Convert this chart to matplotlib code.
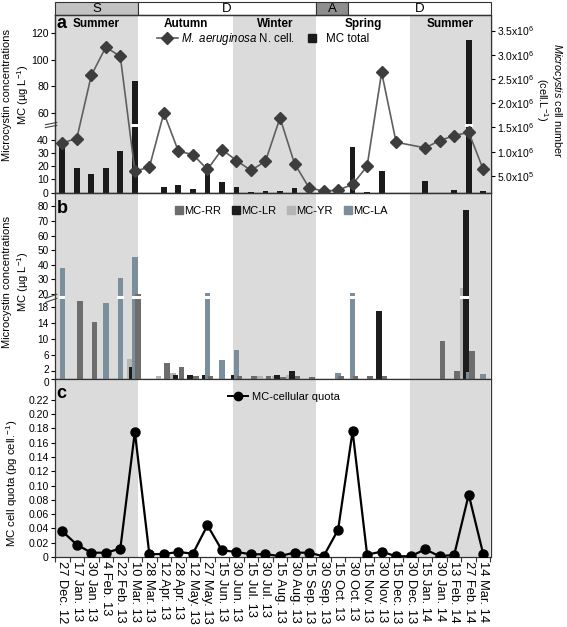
import numpy as np
import matplotlib
matplotlib.use('Agg')
import matplotlib.pyplot as plt
from matplotlib.lines import Line2D
from matplotlib.patches import Rectangle
from matplotlib.transforms import blended_transform_factory, ScaledTranslation

plt.rcParams['font.family'] = ['Liberation Sans', 'DejaVu Sans']
plt.rcParams['mathtext.fontset'] = 'custom'
plt.rcParams['mathtext.rm'] = 'Liberation Sans'
plt.rcParams['mathtext.it'] = 'Liberation Sans:italic'
plt.rcParams['mathtext.bf'] = 'Liberation Sans:bold'

# ---------------- data ----------------
dates = ['27 Dec. 12', '17 Jan. 13', '30 Jan. 13', '4 Feb. 13', '22 Feb. 13', '10 Mar. 13',
         '28 Mar. 13', '12 Apr. 13', '28 Apr. 13', '12 May. 13', '27 May. 13', '15 Jun. 13',
         '30 Jun. 13', '15 Jul. 13', '30 Jul. 13', '15 Aug. 13', '30 Aug. 13', '15 Sep. 13',
         '30 Sep. 13', '15 Oct. 13', '30 Oct. 13', '15 Nov. 13', '30 Nov. 13', '15 Dec. 13',
         '30 Dec. 13', '15 Jan. 14', '30 Jan. 14', '13 Feb. 14', '27 Feb. 14', '14 Mar. 14']

mc_total = [37.6, 18.8, 13.8, 18.3, 31.2, 84.0, 0.0, 4.5, 5.5, 2.8, 21.6, 7.8, 4.3, 0.8, 1.5,
            1.5, 3.3, 0.0, 0.0, 0.0, 34.6, 0.5, 16.6, 0.0, 0.0, 8.8, 0.0, 1.8, 115.0, 1.0]

cell_number = [1.183e6, 1.272e6, 2.574e6, 3.158e6, 2.965e6, 0.599e6, 0.681e6, 1.80e6, 1.01e6,
               0.942e6, 0.634e6, 1.045e6, 0.819e6, 0.613e6, 0.805e6, 1.698e6, 0.757e6, 0.257e6,
               0.187e6, 0.208e6, 0.325e6, 0.702e6, 2.636e6, 1.196e6, np.nan, 1.08e6, 1.23e6,
               1.333e6, 1.40e6, 0.634e6]

mc_rr = [0, 19.2, 14.2, 0, 0, 20.2, 0, 4.1, 2.9, 0.8, 0.8, 0, 0.8, 0.8, 0.8, 0.6, 0.75, 0.5,
         0, 0.8, 0.8, 0.8, 0.8, 0, 0, 0, 9.6, 2.1, 7.0, 0]
mc_lr = [0, 0, 0, 0, 0, 3.1, 0, 0, 1.0, 1.0, 1.0, 0, 1.0, 0, 0, 1.0, 2.1, 0,
         0, 0, 0, 0, 17.0, 0, 0, 0, 0, 0, 77.7, 0]
mc_yr = [0, 0, 0, 0, 0, 4.9, 0, 0.75, 1.6, 0, 0, 0, 0, 0, 0.8, 0.8, 1.0, 0,
         0, 0, 0, 0, 0, 0, 0, 0, 0, 0, 24.3, 0]
mc_la = [38.0, 0, 0, 19.0, 30.8, 45.0, 0, 0, 0, 0, 20.5, 4.75, 7.25, 0, 0, 0, 0, 0,
         0, 1.6, 20.5, 0, 0, 0, 0, 0, 0, 0, 1.7, 1.2]

mc_quota = [0.036, 0.0173, 0.006, 0.006, 0.0117, 0.175, 0.0038, 0.0042, 0.007, 0.0047,
            0.0443, 0.0094, 0.007, 0.0038, 0.0038, 0.0014, 0.0061, 0.006, 0.001, 0.038,
            0.176, 0.0033, 0.0075, 0.001, 0.001, 0.0107, 0.001, 0.003, 0.0873, 0.004]

seasons = ['Summer', 'Autumn', 'Winter', 'Spring', 'Summer']
season_bounds = [-0.5, 5.20, 11.78, 17.51, 23.95, 29.5]
season_gray = [True, False, True, False, True]
phases = ['S', 'D', 'A', 'D']
phase_bounds = [-0.5, 5.20, 17.51, 19.68, 29.5]
phase_colors = ['#c2c2c2', 'white', '#8e8e8e', 'white']

x = np.arange(len(dates))
SHADE = '#dbdbdb'
NARROW = ['Liberation Sans Narrow', 'Liberation Sans', 'DejaVu Sans']

fig = plt.figure(figsize=(5.67, 6.27), dpi=100)
L, W = 55 / 567, 435.5 / 567

def fy(top_px, bot_px):
    return [L, 1 - bot_px / 627, W, (bot_px - top_px) / 627]

ax_h = fig.add_axes(fy(2, 15))
ax_a = fig.add_axes(fy(15, 192.7))
ax_b = fig.add_axes(fy(192.7, 379))
ax_c = fig.add_axes(fy(379, 557))

# header
ax_h.set_xlim(-0.5, 29.5)
ax_h.set_ylim(0, 1)
ax_h.axis('off')
for i, p in enumerate(phases):
    a0, a1 = phase_bounds[i], phase_bounds[i + 1]
    ax_h.add_patch(Rectangle((a0, 0), a1 - a0, 1, facecolor=phase_colors[i], edgecolor='#333333',
                             lw=0.8, clip_on=False))
    ax_h.text((a0 + a1) / 2, 0.45, p, ha='center', va='center', fontsize=9.5)

def shade(ax):
    for i in range(len(seasons)):
        if season_gray[i]:
            ax.axvspan(season_bounds[i], season_bounds[i + 1], color=SHADE, lw=0, zorder=0)
    ax.set_xlim(-0.5, 29.5)
    ax.set_xticks(x)
    ax.set_xticks(np.arange(-0.5, 30, 1), minor=True)
    ax.tick_params(axis='x', which='major', length=0)
    ax.tick_params(axis='x', which='minor', length=3.5, direction='out', width=0.8, color='#333333')
    ax.tick_params(axis='y', length=3, direction='out', width=0.8, labelsize=7.6, pad=1.5)
    for s in ax.spines.values():
        s.set_color('#333333')
        s.set_linewidth(0.9)

def break_mark(ax, yval):
    tr = blended_transform_factory(ax.transAxes, ax.transData)
    for dy in (0, 1):
        ax.plot([-0.022, 0.004], [yval - 1.5 + dy * 2.2, yval + 0.2 + dy * 2.2], color='#444444',
                lw=0.8, transform=tr, clip_on=False, zorder=6)

# ---------------- panel a ----------------
shade(ax_a)
ax_a.set_xticklabels([])
ax_a.bar(x, mc_total, width=0.4, color='#1a1a1a', zorder=3)
tall = [i for i in x if mc_total[i] > 52]
ax_a.bar(tall, [2.2] * len(tall), bottom=49.8, width=0.55, color='white', zorder=4)
ax_a.set_ylim(0, 133.8)
ax_a.set_yticks([0, 10, 20, 30, 40, 60, 80, 100, 120])
break_mark(ax_a, 50.5)

ax_r = ax_a.twinx()
cn = np.array(cell_number)
ok = ~np.isnan(cn)
ax_r.plot(x[ok], cn[ok], color='#5f5f5f', lw=1.2, marker='D', ms=6.5, mfc='#3d3d3d',
          mec='#3d3d3d', zorder=5)
ax_r.set_ylim(0.155e6, 3.82e6)
rt = [0.5e6, 1.0e6, 1.5e6, 2.0e6, 2.5e6, 3.0e6, 3.5e6]
ax_r.set_yticks(rt)
ax_r.set_yticklabels([r'5.0x10$^5$'] + [r'%.1fx10$^6$' % (v / 1e6) for v in rt[1:]],
                     fontfamily=NARROW)
ax_r.tick_params(axis='y', length=3, direction='out', width=0.8, labelsize=7.5, pad=2)
for s in ax_r.spines.values():
    s.set_color('#333333')
    s.set_linewidth(0.9)

trR = blended_transform_factory(ax_r.transData, ax_r.transAxes)
for i, sname in enumerate(seasons):
    ax_r.text((season_bounds[i] + season_bounds[i + 1]) / 2, 0.95, sname, transform=trR,
              ha='center', va='center', fontsize=8.5, fontweight='bold')
ax_r.text(0.004, 0.95, 'a', transform=ax_r.transAxes, ha='left', va='center',
          fontsize=13, fontweight='bold')

hA = [Line2D([], [], color='#5f5f5f', lw=1.2, marker='D', ms=6, mfc='#3d3d3d', mec='#3d3d3d'),
      Line2D([], [], ls='none', marker='s', ms=6, mfc='#1a1a1a', mec='#1a1a1a')]
ax_r.legend(hA, [r'$\it{M.\ aeruginosa}$ N. cell.', 'MC total'], loc='center',
            bbox_to_anchor=(0.478, 0.865), ncol=2, frameon=False, fontsize=8.3,
            handlelength=1.8, columnspacing=0.6, handletextpad=0.3, borderpad=0)

# ---------------- panel b ----------------
xp = [-100.0, 0.0, 19.0, 20.0, 300.0]
fp = [-400.0, 0.0, 76.0, 85.0, 85.0 + 280 * 1.455]
fwd = lambda v: np.interp(v, xp, fp)
inv = lambda p: np.interp(p, fp, xp)
ax_b.set_yscale('function', functions=(fwd, inv))
shade(ax_b)
ax_b.set_xticklabels([])
bw = 0.38
series_b = [('MC-YR', mc_yr, -0.38, '#b5b5b5', 3),
            ('MC-LR', mc_lr, -0.19, '#1c1c1c', 4),
            ('MC-LA', mc_la, 0.0, '#7b8e9b', 5),
            ('MC-RR', mc_rr, 0.21, '#6d6d6d', 6)]
for name, vals, off, col, z in series_b:
    ax_b.bar(x + off, vals, width=bw, color=col, zorder=z)
    big = [i for i in x if vals[i] > 19.9]
    ax_b.bar(np.array(big) + off, [0.38] * len(big), bottom=19.4, width=bw + 0.06,
             color='white', zorder=z + 0.5)
ax_b.set_ylim(0, 89.4)
ax_b.set_yticks([0, 2, 6, 10, 14, 18, 20, 30, 40, 50, 60, 70, 80])
ax_b.set_yticklabels(['0', '2', '6', '10', '14', '18', '20', '30', '40', '50', '60', '70', '80'])
ax_b.minorticks_off()
ax_b.set_xticks(np.arange(-0.5, 30, 1), minor=True)
ax_b.tick_params(axis='x', which='minor', length=3.5, direction='out', width=0.8, color='#333333')
ax_b.tick_params(axis='y', labelsize=7.2)
fig.canvas.draw()
ylab_b = ax_b.get_yticklabels()
ylab_b[0].set_transform(ylab_b[0].get_transform() + ScaledTranslation(0, -2.5 / 100, fig.dpi_scale_trans))
ylab_b[1].set_transform(ylab_b[1].get_transform() + ScaledTranslation(0, 2.0 / 100, fig.dpi_scale_trans))
tr = blended_transform_factory(ax_b.transAxes, ax_b.transData)
for v0, v1 in ((19.05, 19.5), (19.5, 19.95)):
    ax_b.plot([-0.022, 0.004], [v0, v1], color='#444444', lw=0.8, transform=tr,
              clip_on=False, zorder=7)
ax_b.text(0.004, 0.915, 'b', transform=ax_b.transAxes, ha='left', va='center',
          fontsize=13, fontweight='bold')
hB = [Line2D([], [], ls='none', marker='s', ms=6, mfc=c, mec=c) for c in
      ['#6d6d6d', '#1c1c1c', '#b5b5b5', '#7b8e9b']]
ax_b.legend(hB, ['MC-RR', 'MC-LR', 'MC-YR', 'MC-LA'], loc='center',
            bbox_to_anchor=(0.52, 0.9), ncol=4, frameon=False, fontsize=8,
            handlelength=0.7, columnspacing=1.0, handletextpad=0.1, borderpad=0)

# ---------------- panel c ----------------
shade(ax_c)
ax_c.plot(x, mc_quota, color='black', lw=1.6, marker='o', ms=6.5, zorder=5)
ax_c.set_ylim(0, 0.249)
ct = np.round(np.arange(0, 0.221, 0.02), 2)
ax_c.set_yticks(ct)
ax_c.set_yticklabels(['0'] + ['%.2f' % v for v in ct[1:]])
ax_c.set_xticklabels(dates, rotation=270, fontsize=9.3, ha='center', va='top')
ax_c.tick_params(axis='x', which='major', pad=3)
ax_c.text(0.004, 0.92, 'c', transform=ax_c.transAxes, ha='left', va='center',
          fontsize=13, fontweight='bold')
hC = [Line2D([], [], color='black', lw=1.4, marker='o', ms=6)]
ax_c.legend(hC, ['MC-cellular quota'], loc='center', bbox_to_anchor=(0.526, 0.9),
            frameon=False, fontsize=8, handlelength=1.8, handletextpad=0.3, borderpad=0)

# axis titles
for yc in (95, 282):
    fig.text(16.5 / 567, 1 - yc / 627, 'Microcystin concentrations\nMC (µg L$^{-1}$)', rotation=90,
             ha='center', va='center', fontsize=8, multialignment='center', linespacing=1.2)
fig.text(12 / 567, 1 - 483 / 627, 'MC cell quota (pg cell.$^{-1}$)', rotation=90,
         ha='center', va='center', fontsize=8.2)
fig.text(549 / 567, 1 - 100 / 627, r'$\it{Microcystis}$ cell number' + '\n(cell.L$^{-1}$)',
         rotation=270, ha='center', va='center', fontsize=7.8, multialignment='center',
         linespacing=1.1)

fig.savefig('out.png', dpi=100)
